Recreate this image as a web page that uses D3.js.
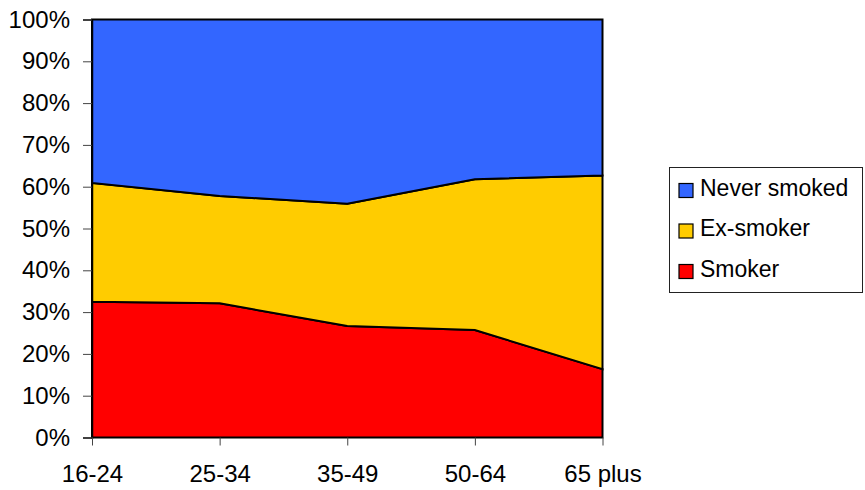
<!DOCTYPE html>
<html>
<head>
<meta charset="utf-8">
<script src="https://cdn.jsdelivr.net/npm/d3@7"></script>
<style>
  html, body { margin: 0; padding: 0; background: #fff; }
  svg { display: block; font-family: "Liberation Sans", Arial, sans-serif; }
</style>
</head>
<body>
<svg id="chart" width="865" height="490"></svg>
<script>
// Smoking status by age group (percent of each group)
const ageGroups = ["16-24", "25-34", "35-49", "50-64", "65 plus"];
const smoker = [32.5, 32.1, 26.7, 25.7, 16.4];
const exSmoker = [28.4, 25.7, 29.2, 36.1, 46.4];
const neverSmoked = [39.1, 42.2, 44.1, 38.2, 37.4];
const yTickValues = [0, 10, 20, 30, 40, 50, 60, 70, 80, 90, 100];

const seriesNames = ["Smoker", "Ex-smoker", "Never smoked"];
const seriesColors = { "Smoker": "#FF0000", "Ex-smoker": "#FFCC00", "Never smoked": "#3366FF" };

const rows = ageGroups.map((g, i) => ({
  group: g,
  "Smoker": smoker[i],
  "Ex-smoker": exSmoker[i],
  "Never smoked": neverSmoked[i]
}));

const svg = d3.select("#chart");
const plot = { left: 92, right: 602.5, top: 19.5, bottom: 437.5 };

const x = d3.scalePoint().domain(ageGroups).range([plot.left, plot.right]);
const y = d3.scaleLinear().domain([0, 100]).range([plot.bottom, plot.top]);

const stacked = d3.stack().keys(seriesNames).offset(d3.stackOffsetExpand)(rows);

const area = d3.area()
  .x(d => x(d.data.group))
  .y0(d => y(d[0] * 100))
  .y1(d => y(d[1] * 100));

// Stacked areas with black outlines
svg.append("g")
  .selectAll("path")
  .data(stacked)
  .join("path")
  .attr("d", area)
  .attr("fill", d => seriesColors[d.key])
  .attr("stroke", "#000")
  .attr("stroke-width", 2)
  .attr("stroke-linejoin", "miter");

const axisFont = 24;

// Y axis
const yAxis = d3.axisLeft(y)
  .tickValues(yTickValues)
  .tickFormat(d => d + "%")
  .tickSize(9)
  .tickPadding(13);
const yg = svg.append("g")
  .attr("transform", `translate(${plot.left},0)`)
  .call(yAxis);
yg.select(".domain").attr("stroke", "#000").attr("stroke-width", 1.5);
yg.selectAll(".tick line").attr("stroke", "#444").attr("stroke-width", 1);
yg.selectAll(".tick text")
  .attr("font-size", axisFont)
  .attr("font-family", "Liberation Sans, Arial, sans-serif")
  .attr("fill", "#000");

// X axis
const xAxis = d3.axisBottom(x).tickSize(8).tickPadding(19).tickSizeOuter(0);
const xg = svg.append("g")
  .attr("transform", `translate(0,${plot.bottom})`)
  .call(xAxis);
xg.select(".domain").remove();
xg.selectAll(".tick line").attr("stroke", "#444").attr("stroke-width", 1);
xg.selectAll(".tick text")
  .attr("font-size", axisFont)
  .attr("font-family", "Liberation Sans, Arial, sans-serif")
  .attr("fill", "#000");

// Legend
const legend = svg.append("g");
legend.append("rect")
  .attr("x", 669.5).attr("y", 167.5)
  .attr("width", 193).attr("height", 125)
  .attr("fill", "#fff")
  .attr("stroke", "#222")
  .attr("stroke-width", 1);

const legendOrder = ["Never smoked", "Ex-smoker", "Smoker"];
const legendY = d3.scalePoint().domain(legendOrder).range([187.5, 268.5]);
const items = legend.selectAll("g.item")
  .data(legendOrder)
  .join("g")
  .attr("class", "item")
  .attr("transform", d => `translate(0,${legendY(d)})`);
items.append("rect")
  .attr("x", 679).attr("y", -4)
  .attr("width", 14).attr("height", 14)
  .attr("fill", d => seriesColors[d])
  .attr("stroke", "#000")
  .attr("stroke-width", 1.2);
items.append("text")
  .attr("x", 700)
  .attr("y", 8.3)
  .attr("font-size", 23)
  .attr("fill", "#000")
  .text(d => d);
</script>
</body>
</html>
